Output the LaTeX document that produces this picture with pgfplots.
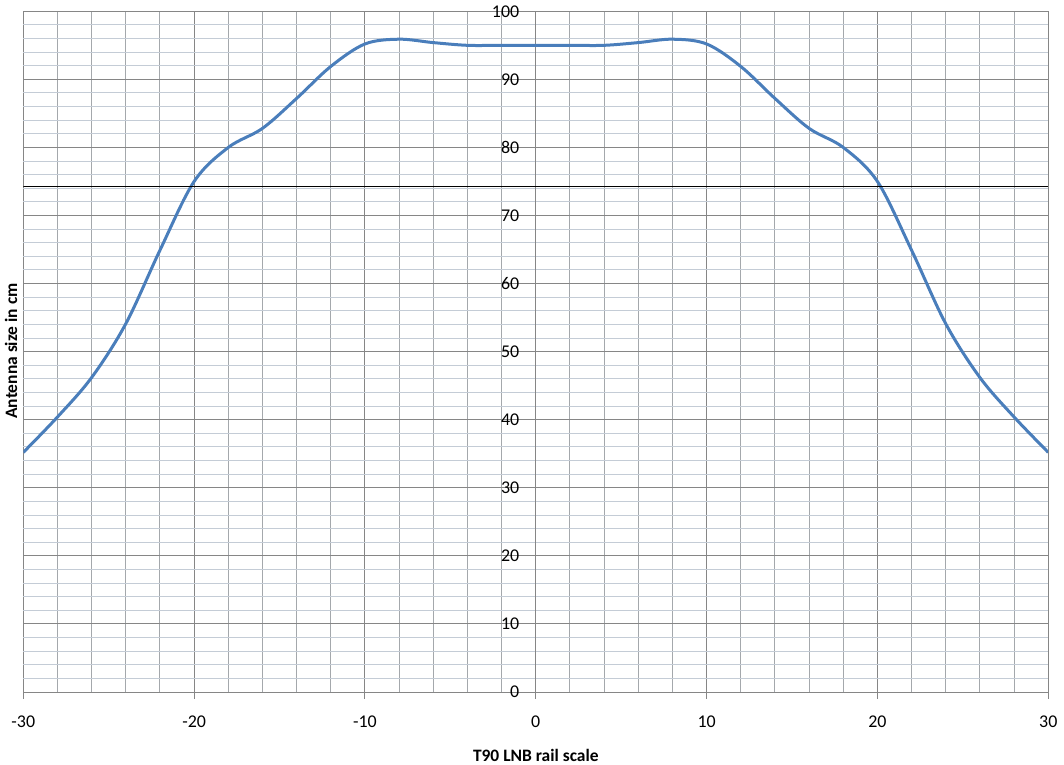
\documentclass[border=0pt]{standalone}
\usepackage{fontspec}
\setmainfont{Carlito}
\usepackage{pgfplots}
\pgfplotsset{compat=1.18}
\definecolor{serieblue}{HTML}{4A7EBB}
\definecolor{majgrid}{HTML}{868686}
\definecolor{minxgrid}{HTML}{A4A8AC}
\definecolor{minygrid}{HTML}{C4CCD6}

% values, every 2 units
\pgfplotstableread{
x y
-30 35.2
-28 40.4
-26 46.2
-24 54.1
-22 64.9
-20 75.0
-18 80.0
-16 82.8
-14 87.2
-12 91.9
-10 95.2
-8 95.9
-6 95.4
-4 95.0
-2 95.0
0 95.0
2 95.0
4 95.0
6 95.4
8 95.9
10 95.2
12 91.9
14 87.2
16 82.8
18 80.0
20 75.0
22 64.9
24 54.1
26 46.2
28 40.4
30 35.2
}\antenna

\begin{document}
\begin{tikzpicture}
\useasboundingbox (-23.3bp,-73bp) rectangle (1040.7bp,692bp);
\begin{axis}[at={(0,0)}, anchor=south west,
    scale only axis, width=1025bp, height=680.7bp,
    xmin=-30, xmax=30, ymin=0, ymax=100,
    xtick={-30,-20,...,30}, ytick={0,10,...,100},
    minor x tick num=4, minor y tick num=4,
    grid=both,
    major grid style={majgrid, line width=1bp},
    minor x grid style={minxgrid, line width=1bp},
    minor y grid style={minygrid, line width=1bp},
    axis x line=bottom, axis y line=middle,
    hide obscured x ticks=false, hide obscured y ticks=false,
    axis line style={-, majgrid, line width=1bp},
    tick align=outside, major tick length=7bp, minor tick length=0pt,
    xtick style={majgrid, line width=1bp},
    ytick style={draw=none},
    tick label style={font=\fontsize{18}{21}\selectfont},
    /pgf/number format/assume math mode=true,
    xticklabel style={yshift=-13bp},
    yticklabel style={xshift=-6bp}]
  \addplot[serieblue, line width=3bp, smooth, tension=0.55] table {\antenna};
  \addplot[black, line width=1.2bp] coordinates {(-30,74.3) (30,74.3)};
\end{axis}
\node[font=\fontsize{17.5}{21}\selectfont\bfseries] at (512.5bp,-63bp) {T90 LNB rail scale};
\node[font=\fontsize{17.5}{21}\selectfont\bfseries, rotate=90] at (-12.3bp,341bp) {Antenna size in cm};
\end{tikzpicture}
\end{document}
